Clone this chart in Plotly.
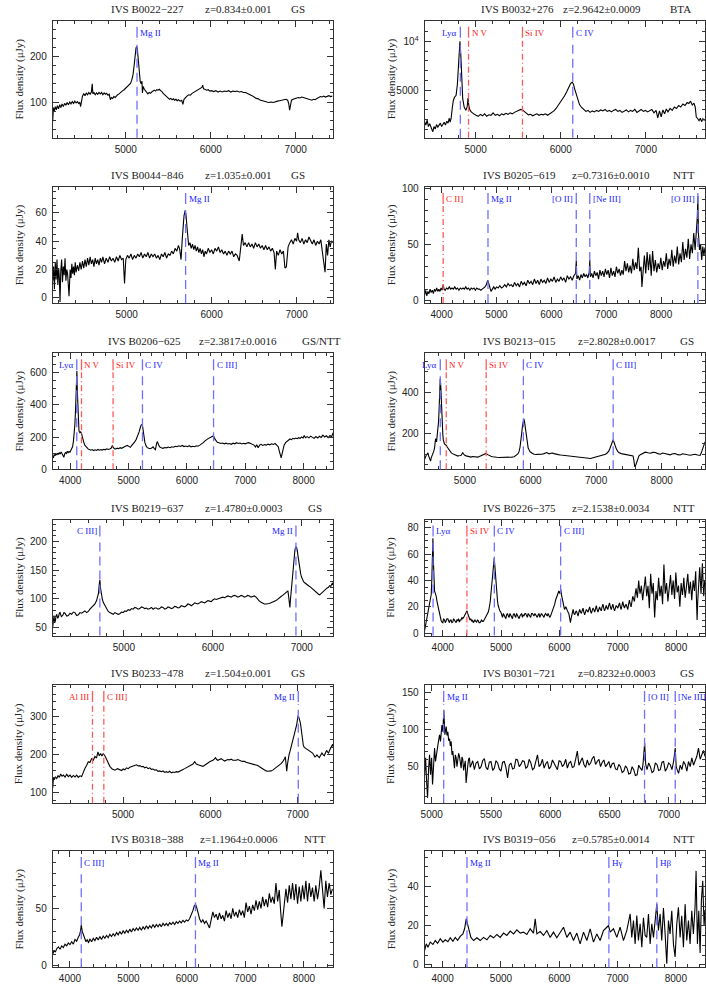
import plotly.graph_objects as go
from plotly.subplots import make_subplots

# Spectra: (wavelength [A], flux density [uJy])
spec_b0022 = [(4140,58),(4148,88),(4158,80),(4170,90),(4182,83),(4195,92),(4208,85),(4222,94),(4236,88),(4250,96),(4265,90),(4280,97),(4295,93),(4310,99),(4325,94),(4340,100),(4355,96),(4370,101),(4385,97),(4400,102),(4415,98),(4430,101),(4445,97),(4458,99),(4468,90),(4478,104),(4490,113),(4505,118),(4520,114),(4535,120),(4550,116),(4565,121),(4580,117),(4595,122),(4605,140),(4612,118),(4625,121),(4640,116),(4655,120),(4670,117),(4685,121),(4700,118),(4715,121),(4730,116),(4745,120),(4760,117),(4775,119),(4790,115),(4805,117),(4818,105),(4830,110),(4845,108),(4860,112),(4875,110),(4890,114),(4905,116),(4920,118),(4935,121),(4950,123),(4965,125),(4980,127),(4995,130),(5010,131),(5025,134),(5040,137),(5055,141),(5070,148),(5085,160),(5098,180),(5110,205),(5120,218),(5128,222),(5136,216),(5146,195),(5158,165),(5170,145),(5182,140),(5190,146),(5196,120),(5204,134),(5218,128),(5232,125),(5246,121),(5260,118),(5275,121),(5290,119),(5305,122),(5320,124),(5335,126),(5350,124),(5365,127),(5380,126),(5395,128),(5410,125),(5425,123),(5440,119),(5455,116),(5470,113),(5485,110),(5500,108),(5515,106),(5530,108),(5545,105),(5560,107),(5575,104),(5590,106),(5605,103),(5620,105),(5640,102),(5658,104),(5672,95),(5685,106),(5700,110),(5720,113),(5740,116),(5760,115),(5780,119),(5800,121),(5820,124),(5840,126),(5860,128),(5880,130),(5895,132),(5905,137),(5915,129),(5930,128),(5950,126),(5970,127),(5990,124),(6010,125),(6035,123),(6060,125),(6085,122),(6110,124),(6135,122),(6160,124),(6185,123),(6210,125),(6235,122),(6260,124),(6285,123),(6310,124),(6335,122),(6360,123),(6385,121),(6410,121),(6435,119),(6460,117),(6485,114),(6510,111),(6535,108),(6560,107),(6585,104),(6610,103),(6635,101),(6660,100),(6685,99),(6710,100),(6735,99),(6760,101),(6785,102),(6810,103),(6835,104),(6860,105),(6885,106),(6905,104),(6918,96),(6928,82),(6938,98),(6950,104),(6970,106),(6990,107),(7010,108),(7030,110),(7050,109),(7070,111),(7090,110),(7110,109),(7130,108),(7150,106),(7170,105),(7190,104),(7210,106),(7230,105),(7250,108),(7270,110),(7290,112),(7310,111),(7330,113),(7350,111),(7370,112),(7390,114),(7410,112),(7430,113)]

spec_b0032 = [(4400,1800),(4415,1450),(4430,1950),(4445,1300),(4460,1600),(4475,1150),(4490,900),(4497,780),(4510,1300),(4525,1050),(4540,1500),(4555,1250),(4570,1400),(4585,1650),(4600,1300),(4615,1550),(4630,1750),(4645,1450),(4660,1850),(4675,1650),(4690,2150),(4700,1750),(4712,2150),(4725,3200),(4738,3990),(4752,4300),(4770,4500),(4785,5600),(4795,7000),(4805,8600),(4815,10000),(4825,8700),(4835,5700),(4848,4150),(4865,3300),(4885,2970),(4900,3300),(4910,4200),(4920,3400),(4932,3000),(4948,2800),(4965,2650),(4985,2550),(5005,2450),(5030,2350),(5055,2550),(5080,2400),(5105,2600),(5130,2350),(5155,2500),(5180,2450),(5205,2700),(5230,2450),(5255,2550),(5280,2400),(5305,2600),(5330,2500),(5355,2650),(5380,2550),(5405,2700),(5430,2600),(5455,2750),(5480,2850),(5505,2950),(5530,3050),(5550,3000),(5570,2850),(5595,2650),(5620,2500),(5645,2550),(5670,2400),(5695,2500),(5720,2600),(5745,2450),(5770,2550),(5795,2500),(5820,2600),(5845,2450),(5870,2600),(5895,2700),(5920,2900),(5945,3150),(5970,3450),(5995,3800),(6020,4100),(6045,4450),(6070,4850),(6095,5300),(6115,5700),(6135,5850),(6150,5600),(6165,5100),(6180,4600),(6200,4000),(6220,3550),(6245,3250),(6270,3000),(6295,2850),(6320,2950),(6345,2750),(6370,2900),(6395,2800),(6420,2950),(6445,2850),(6470,3000),(6495,2900),(6520,3050),(6545,2850),(6570,2950),(6595,2800),(6620,2950),(6645,3050),(6670,2850),(6695,2950),(6720,2750),(6745,2900),(6770,3000),(6795,2800),(6820,2950),(6845,2850),(6870,3050),(6895,2750),(6920,2950),(6945,3050),(6970,2850),(6995,2950),(7020,2800),(7045,2950),(7070,3050),(7095,2700),(7120,2950),(7140,2200),(7160,2900),(7180,2300),(7200,3000),(7220,2600),(7240,3100),(7260,2800),(7285,3150),(7310,2950),(7335,3300),(7360,3150),(7385,3450),(7410,3300),(7435,3600),(7460,3450),(7485,3750),(7505,3650),(7525,3900),(7545,3500),(7565,3700),(7580,3300),(7592,2300),(7610,2100),(7625,1900),(7640,2150),(7655,1800),(7670,2100),(7685,1950),(7695,2050)]

spec_b0044 = [(4130,12),(4140,22),(4150,6),(4160,25),(4170,13),(4180,27),(4190,9),(4200,21),(4208,14),(4216,-3),(4225,19),(4235,27),(4245,11),(4255,22),(4265,16),(4275,28),(4285,12),(4295,20),(4305,17),(4322,1),(4335,20),(4345,14),(4355,24),(4365,17),(4375,22),(4385,16),(4395,25),(4405,18),(4420,23),(4435,19),(4450,25),(4465,20),(4480,26),(4495,21),(4510,27),(4525,22),(4540,28),(4555,23),(4570,29),(4585,24),(4600,27),(4615,22),(4630,28),(4645,24),(4660,27),(4675,23),(4690,28),(4705,25),(4720,29),(4740,24),(4760,28),(4780,25),(4800,29),(4820,26),(4840,28),(4860,25),(4880,29),(4900,26),(4920,30),(4940,27),(4960,28),(4975,10),(4990,27),(5010,30),(5030,28),(5050,31),(5070,27),(5090,30),(5110,28),(5130,31),(5150,29),(5170,32),(5190,28),(5210,31),(5230,29),(5250,32),(5270,28),(5290,31),(5310,29),(5330,31),(5350,28),(5370,30),(5390,27),(5410,31),(5430,29),(5450,32),(5470,28),(5490,31),(5510,30),(5530,33),(5550,31),(5570,35),(5590,33),(5610,37),(5625,34),(5640,27),(5655,42),(5665,50),(5675,58),(5690,62),(5700,58),(5710,50),(5720,42),(5730,37),(5745,39),(5760,35),(5775,38),(5790,34),(5805,37),(5820,33),(5835,36),(5850,32),(5865,35),(5880,31),(5895,34),(5910,29),(5925,33),(5940,31),(5960,35),(5980,32),(6000,34),(6020,31),(6040,35),(6060,33),(6080,36),(6100,32),(6120,34),(6140,31),(6160,33),(6180,30),(6200,33),(6220,31),(6240,33),(6260,29),(6280,31),(6300,30),(6325,26),(6345,40),(6360,45),(6375,37),(6395,39),(6415,36),(6435,39),(6455,36),(6475,38),(6495,35),(6515,39),(6535,36),(6555,38),(6575,35),(6595,37),(6615,34),(6635,37),(6655,34),(6675,36),(6695,33),(6715,35),(6735,32),(6750,20),(6765,33),(6785,30),(6805,34),(6825,31),(6845,33),(6863,21),(6880,22),(6900,36),(6920,39),(6940,41),(6960,38),(6980,42),(7000,40),(7012,46),(7025,41),(7045,39),(7065,42),(7085,38),(7105,41),(7125,39),(7145,43),(7165,40),(7185,38),(7205,41),(7225,37),(7245,40),(7265,38),(7285,41),(7300,33),(7335,18),(7350,38),(7365,30),(7380,41),(7395,36),(7410,40),(7430,39)]

spec_b0205 = [(3690,5),(3710,9),(3730,4),(3750,8),(3770,6),(3790,10),(3810,7),(3830,9),(3850,6),(3870,10),(3890,8),(3910,11),(3930,8),(3950,10),(3970,8),(3990,11),(4010,9),(4028,14),(4045,10),(4065,9),(4090,11),(4115,10),(4140,12),(4165,10),(4190,11),(4215,10),(4240,12),(4265,10),(4290,11),(4315,9),(4340,11),(4365,10),(4390,11),(4415,10),(4440,12),(4465,10),(4490,11),(4515,9),(4540,11),(4565,10),(4590,11),(4615,9),(4640,11),(4665,10),(4690,10),(4715,9),(4740,10),(4765,11),(4790,12),(4815,14),(4840,18),(4860,15),(4880,10),(4900,8),(4925,10),(4950,12),(4975,10),(5000,12),(5030,11),(5060,13),(5090,11),(5120,12),(5150,14),(5180,12),(5210,15),(5240,13),(5270,14),(5300,12),(5330,16),(5360,13),(5390,15),(5420,12),(5450,17),(5480,14),(5510,16),(5540,13),(5570,18),(5600,15),(5630,17),(5660,14),(5690,19),(5720,15),(5750,18),(5780,14),(5810,19),(5840,16),(5870,18),(5900,15),(5930,20),(5960,16),(5990,19),(6020,17),(6050,21),(6080,16),(6110,19),(6140,17),(6170,21),(6200,18),(6230,20),(6260,16),(6290,22),(6320,19),(6350,21),(6380,18),(6410,22),(6440,24),(6454,35),(6465,19),(6490,22),(6515,18),(6540,23),(6565,20),(6590,24),(6615,21),(6640,23),(6665,20),(6690,25),(6700,36),(6712,21),(6735,24),(6760,20),(6785,26),(6810,22),(6835,25),(6860,19),(6885,27),(6910,22),(6935,26),(6960,21),(6985,28),(7010,23),(7035,27),(7060,20),(7085,29),(7110,22),(7135,26),(7160,21),(7185,30),(7210,24),(7235,28),(7260,22),(7285,27),(7310,23),(7335,35),(7360,26),(7385,33),(7410,25),(7435,31),(7460,24),(7485,37),(7510,27),(7535,34),(7560,28),(7585,47),(7610,26),(7635,30),(7650,12),(7670,28),(7695,40),(7720,24),(7745,43),(7770,27),(7795,41),(7820,22),(7845,44),(7870,26),(7895,36),(7920,25),(7945,33),(7970,28),(7995,38),(8020,27),(8045,35),(8070,30),(8095,42),(8120,28),(8145,37),(8170,31),(8195,45),(8220,30),(8245,40),(8270,33),(8295,48),(8320,32),(8345,42),(8370,34),(8395,52),(8420,36),(8445,46),(8470,38),(8495,55),(8520,37),(8545,50),(8570,42),(8595,60),(8620,45),(8645,62),(8660,75),(8670,93),(8680,60),(8700,45),(8720,50),(8740,36),(8760,48),(8780,40),(8800,47)]

spec_b0206 = [(3700,82),(3712,70),(3725,92),(3740,84),(3755,98),(3770,88),(3785,100),(3800,92),(3815,104),(3830,95),(3845,108),(3860,98),(3875,90),(3890,74),(3905,96),(3920,104),(3935,98),(3950,112),(3965,104),(3980,110),(3995,106),(4010,118),(4025,125),(4040,140),(4055,175),(4068,215),(4080,280),(4092,380),(4100,500),(4108,600),(4114,610),(4120,500),(4128,380),(4138,290),(4150,238),(4165,228),(4180,232),(4195,220),(4210,190),(4230,170),(4250,150),(4270,140),(4290,130),(4310,125),(4330,122),(4350,118),(4375,122),(4400,116),(4425,121),(4450,117),(4475,123),(4500,118),(4525,122),(4550,119),(4575,124),(4600,121),(4625,127),(4650,123),(4675,126),(4700,130),(4720,145),(4738,138),(4755,128),(4780,126),(4805,131),(4830,128),(4855,134),(4880,130),(4905,137),(4930,140),(4955,145),(4980,148),(5005,142),(5030,136),(5055,148),(5080,158),(5105,170),(5130,185),(5155,205),(5180,232),(5200,258),(5215,275),(5235,279),(5250,240),(5265,200),(5280,165),(5300,145),(5320,134),(5345,130),(5370,128),(5395,132),(5420,140),(5440,128),(5460,122),(5480,160),(5495,172),(5515,150),(5535,138),(5560,134),(5590,130),(5620,135),(5650,133),(5680,138),(5710,134),(5740,140),(5770,137),(5800,143),(5830,140),(5860,146),(5890,142),(5920,148),(5950,141),(5980,144),(6010,140),(6040,146),(6070,139),(6100,143),(6130,140),(6160,146),(6190,143),(6220,150),(6250,156),(6280,165),(6310,176),(6340,186),(6370,192),(6400,198),(6430,204),(6455,208),(6475,190),(6495,176),(6520,168),(6550,165),(6580,160),(6610,163),(6640,158),(6670,162),(6700,157),(6730,160),(6760,155),(6790,162),(6820,158),(6850,165),(6880,160),(6910,163),(6940,157),(6970,161),(7000,158),(7030,163),(7060,165),(7090,160),(7120,156),(7150,150),(7175,138),(7195,152),(7220,134),(7245,150),(7270,155),(7300,148),(7330,153),(7360,150),(7390,156),(7420,152),(7450,158),(7480,154),(7510,160),(7540,152),(7565,140),(7585,110),(7600,85),(7615,70),(7630,95),(7645,125),(7665,150),(7690,165),(7715,175),(7740,182),(7765,188),(7790,184),(7815,192),(7840,188),(7865,194),(7890,190),(7915,196),(7940,192),(7965,200),(7990,194),(8010,210),(8030,196),(8060,203),(8090,195),(8120,206),(8150,198),(8180,192),(8210,203),(8240,194),(8270,205),(8300,198),(8330,212),(8360,200),(8390,208),(8420,196),(8450,210),(8480,202),(8505,228)]

spec_b0213 = [(4385,75),(4398,88),(4410,95),(4423,100),(4436,107),(4446,92),(4456,80),(4466,72),(4476,67),(4486,82),(4496,90),(4504,95),(4512,99),(4525,115),(4537,131),(4545,150),(4552,175),(4560,170),(4567,160),(4575,185),(4582,200),(4590,230),(4598,259),(4606,320),(4613,387),(4619,440),(4623,467),(4628,450),(4633,419),(4640,350),(4648,291),(4656,235),(4663,195),(4670,170),(4678,155),(4688,150),(4699,147),(4709,145),(4719,142),(4729,135),(4739,130),(4752,122),(4764,115),(4777,111),(4790,108),(4802,104),(4815,102),(4828,99),(4840,98),(4853,96),(4866,94),(4878,93),(4891,91),(4904,93),(4916,92),(4929,94),(4942,95),(4955,100),(4967,107),(4980,101),(4992,96),(5018,92),(5043,90),(5068,87),(5093,86),(5118,89),(5144,88),(5170,86),(5195,86),(5220,89),(5245,92),(5270,96),(5296,100),(5321,104),(5347,98),(5372,93),(5397,90),(5422,88),(5448,86),(5486,85),(5524,84),(5561,84),(5599,83),(5637,84),(5675,85),(5713,86),(5751,88),(5776,93),(5802,100),(5815,106),(5827,115),(5840,135),(5852,160),(5865,200),(5878,240),(5888,262),(5898,272),(5908,258),(5918,235),(5928,200),(5938,170),(5951,148),(5964,130),(5979,120),(5994,112),(6025,105),(6055,100),(6093,99),(6131,98),(6169,100),(6207,103),(6227,106),(6247,108),(6265,105),(6283,102),(6308,105),(6333,106),(6359,103),(6384,100),(6422,98),(6460,96),(6510,94),(6561,92),(6611,90),(6662,88),(6712,86),(6763,85),(6813,83),(6864,82),(6890,80),(6915,79),(6940,82),(6965,84),(7015,88),(7066,92),(7105,96),(7143,100),(7168,106),(7193,115),(7210,128),(7228,145),(7245,160),(7259,170),(7269,162),(7279,150),(7294,135),(7309,125),(7327,115),(7345,108),(7383,103),(7421,100),(7459,98),(7497,97),(7530,95),(7563,92),(7576,70),(7588,40),(7598,44),(7608,50),(7620,65),(7633,80),(7653,92),(7674,98),(7712,104),(7750,110),(7788,107),(7826,105),(7864,109),(7902,108),(7940,103),(7978,100),(8016,106),(8054,104),(8091,99),(8129,97),(8167,102),(8205,103),(8243,98),(8281,96),(8319,102),(8357,101),(8395,97),(8433,95),(8471,99),(8509,100),(8547,96),(8585,94),(8605,108),(8625,130),(8645,145),(8660,160)]

spec_b0219 = [(4200,51),(4207,65),(4215,71),(4222,58),(4230,62),(4237,70),(4245,73),(4256,66),(4263,68),(4275,75),(4282,76),(4297,69),(4312,71),(4327,76),(4338,75),(4357,70),(4376,71),(4394,75),(4413,73),(4432,77),(4450,76),(4469,71),(4488,72),(4506,76),(4525,75),(4544,77),(4562,79),(4581,76),(4600,78),(4618,82),(4637,85),(4656,88),(4674,91),(4693,97),(4704,102),(4715,110),(4723,125),(4730,133),(4738,118),(4745,108),(4757,100),(4768,94),(4786,88),(4805,83),(4824,78),(4842,76),(4861,74),(4880,73),(4898,76),(4917,75),(4935,73),(4954,74),(4973,77),(4992,76),(5010,79),(5029,78),(5048,81),(5067,80),(5085,83),(5104,82),(5122,85),(5141,84),(5160,82),(5179,83),(5197,86),(5216,85),(5235,83),(5253,84),(5272,82),(5291,83),(5310,85),(5328,82),(5347,84),(5365,84),(5384,82),(5403,83),(5421,86),(5440,85),(5459,82),(5477,83),(5496,86),(5515,85),(5533,83),(5552,84),(5570,87),(5589,86),(5608,84),(5627,85),(5645,88),(5664,87),(5683,86),(5701,88),(5720,91),(5739,90),(5757,88),(5776,90),(5795,93),(5814,92),(5832,91),(5851,93),(5870,95),(5888,94),(5907,93),(5926,95),(5944,97),(5963,96),(5982,95),(6000,98),(6019,100),(6038,99),(6056,100),(6075,101),(6094,103),(6112,103),(6131,102),(6150,104),(6168,105),(6187,104),(6206,103),(6224,105),(6243,106),(6262,105),(6280,103),(6299,104),(6318,106),(6336,105),(6355,103),(6374,104),(6392,106),(6411,105),(6430,103),(6448,104),(6467,105),(6486,103),(6495,101),(6504,99),(6523,96),(6542,94),(6560,92),(6579,91),(6598,91),(6617,91),(6635,92),(6654,93),(6672,94),(6691,95),(6710,97),(6728,99),(6747,102),(6766,104),(6785,106),(6803,108),(6822,110),(6835,112),(6844,114),(6852,104),(6859,95),(6866,85),(6872,98),(6878,110),(6884,120),(6889,130),(6895,140),(6900,150),(6906,162),(6911,175),(6917,182),(6923,186),(6929,189),(6934,191),(6942,189),(6949,185),(6957,175),(6964,165),(6972,157),(6979,150),(6988,143),(6997,138),(7008,133),(7020,130),(7033,128),(7046,126),(7064,124),(7083,122),(7102,120),(7121,117),(7140,115),(7158,112),(7173,110),(7188,108),(7201,107),(7214,109),(7227,111),(7240,113),(7255,115),(7270,117),(7285,119),(7300,120),(7313,123),(7326,122),(7336,126),(7345,128),(7352,124)]

spec_b0226 = [(3690,2),(3718,9.5),(3747,14.5),(3775,22),(3804,29.5),(3813,40),(3821,52),(3827,64),(3832,72),(3837,64),(3843,52),(3851,40),(3860,32),(3875,30),(3889,28),(3903,24),(3917,21),(3931,17),(3946,14.5),(3960,11),(3974,9.5),(3988,8.5),(4002,8),(4016,11),(4031,10),(4045,8),(4059,9),(4073,11),(4088,11),(4102,9),(4116,8),(4130,10),(4144,10),(4158,8),(4173,8.5),(4187,11),(4201,10),(4215,9),(4230,8),(4244,10),(4258,9.5),(4272,11),(4286,8.5),(4300,10),(4315,10),(4329,12),(4343,11),(4358,12),(4372,13),(4386,15),(4400,16),(4417,17),(4428,15),(4440,13),(4454,11),(4468,10),(4482,11),(4497,9),(4511,10),(4525,8),(4539,9),(4553,10),(4567,9),(4582,8.5),(4596,10),(4610,9.5),(4624,8),(4639,8),(4653,9),(4667,10),(4681,9),(4695,9),(4710,10),(4724,11),(4738,12),(4752,13),(4766,14),(4781,16),(4792,18),(4803,20),(4815,24),(4826,29.5),(4838,35),(4849,42),(4860,49),(4872,54),(4883,57),(4892,52),(4900,46),(4908,40),(4917,34),(4928,28),(4940,24),(4951,21),(4962,19),(4979,17),(4996,16),(5010,14),(5025,12),(5039,15),(5053,14),(5068,12),(5082,11),(5096,14),(5110,15),(5124,13),(5138,12),(5153,15),(5167,14),(5181,12),(5195,11),(5209,14),(5224,15),(5238,13),(5252,12),(5266,15),(5280,14),(5295,12),(5309,11),(5323,13),(5337,14),(5352,15),(5366,12),(5380,14),(5394,13),(5408,15),(5422,15),(5437,13),(5451,12),(5465,15),(5479,14),(5494,12),(5508,12),(5522,15),(5536,15),(5550,14),(5564,13),(5579,15),(5593,14),(5607,13),(5621,12),(5636,14),(5650,15),(5664,12),(5678,13),(5692,15),(5707,14),(5721,13),(5735,12),(5749,14),(5763,15),(5778,14),(5792,13),(5806,15),(5820,14),(5834,12),(5848,13),(5863,15),(5877,17),(5891,18),(5905,19),(5920,22),(5934,25),(5948,27),(5962,29),(5976,31),(5990,32),(6007,30),(6024,33),(6036,29),(6047,26),(6064,22),(6087,18),(6110,20),(6132,17),(6147,16),(6161,15),(6175,12),(6189,8),(6200,11),(6212,14),(6224,16),(6235,18),(6249,15),(6263,14),(6277,16),(6291,17),(6305,15),(6320,13),(6334,16),(6348,18),(6362,16),(6376,15),(6390,17),(6405,19),(6419,16),(6433,14),(6447,16),(6462,18),(6476,17),(6490,16),(6504,18),(6519,20),(6533,17),(6547,15),(6561,17),(6575,19),(6590,18),(6604,16),(6618,18),(6632,21),(6646,18),(6661,16),(6675,18),(6689,20),(6703,18),(6717,17),(6731,20),(6746,22),(6760,19),(6774,17),(6788,19),(6803,21),(6817,19),(6831,18),(6845,21),(6859,23),(6873,20),(6888,18),(6902,20),(6916,22),(6930,19),(6945,17),(6959,19),(6973,21),(6987,20),(7001,19),(7015,21),(7030,23),(7044,20),(7058,18),(7072,21),(7086,24),(7100,21),(7115,19),(7129,21),(7143,22),(7157,20),(7172,18),(7186,22),(7200,25),(7214,22),(7229,20),(7243,24),(7257,28),(7271,26),(7285,24),(7300,30),(7314,34),(7325,30),(7337,27),(7348,34),(7359,40),(7370,34),(7382,30),(7393,33),(7405,36),(7416,30),(7427,25),(7439,30),(7450,33),(7461,38),(7473,43),(7484,35),(7496,28),(7507,32),(7518,36),(7530,27),(7541,19),(7552,32),(7564,45),(7575,37),(7587,30),(7598,34),(7609,38),(7620,24),(7632,12),(7643,22),(7655,32),(7666,28),(7677,25),(7689,34),(7700,42),(7711,35),(7723,28),(7734,32),(7745,36),(7757,29),(7768,22),(7779,37),(7791,52),(7802,41),(7813,30),(7825,34),(7836,38),(7848,31),(7859,24),(7870,29),(7882,34),(7893,39),(7904,44),(7916,36),(7927,29),(7938,35),(7950,40),(7961,33),(7973,26),(7984,36),(7995,46),(8007,38),(8018,31),(8030,33),(8041,36),(8052,28),(8064,20),(8075,29),(8086,38),(8098,33),(8109,29),(8120,35),(8132,42),(8143,34),(8155,27),(8166,31),(8177,36),(8189,41),(8200,45),(8211,37),(8223,30),(8234,35),(8245,39),(8257,32),(8268,25),(8280,33),(8291,40),(8302,36),(8314,32),(8325,40),(8336,47),(8347,28),(8359,10),(8370,24),(8382,38),(8393,44),(8404,50),(8416,40),(8427,30),(8438,42),(8450,53),(8461,40),(8473,28),(8482,34),(8490,40)]

spec_b0233 = [(4195,113),(4203,139),(4214,135),(4225,142),(4241,138),(4256,146),(4271,141),(4286,150),(4302,144),(4317,147),(4336,142),(4355,149),(4374,143),(4393,147),(4412,141),(4431,146),(4450,142),(4469,147),(4488,141),(4507,145),(4526,143),(4545,155),(4564,165),(4583,172),(4602,182),(4621,180),(4640,190),(4659,186),(4678,196),(4697,192),(4712,208),(4728,198),(4743,204),(4758,197),(4773,203),(4792,198),(4811,188),(4830,178),(4849,170),(4876,163),(4907,160),(4937,164),(4964,161),(4983,159),(5002,163),(5021,161),(5040,166),(5059,164),(5078,168),(5097,169),(5116,172),(5135,171),(5154,174),(5173,171),(5192,172),(5211,169),(5230,170),(5249,166),(5268,168),(5287,164),(5306,166),(5325,162),(5344,163),(5363,160),(5382,161),(5401,157),(5420,158),(5439,156),(5458,158),(5477,154),(5496,156),(5515,154),(5534,157),(5553,153),(5572,155),(5591,154),(5610,156),(5629,155),(5648,158),(5667,160),(5687,162),(5706,164),(5725,166),(5744,168),(5763,170),(5782,174),(5801,176),(5820,182),(5839,176),(5858,174),(5877,172),(5896,170),(5915,170),(5934,173),(5953,175),(5972,179),(5991,182),(6010,183),(6029,186),(6044,189),(6059,193),(6072,188),(6086,186),(6105,188),(6124,190),(6143,187),(6162,184),(6181,186),(6200,188),(6219,187),(6238,189),(6257,186),(6276,185),(6295,186),(6314,188),(6333,185),(6352,184),(6371,183),(6390,183),(6409,181),(6428,180),(6447,179),(6466,178),(6485,177),(6504,176),(6524,174),(6543,172),(6562,169),(6581,166),(6600,163),(6619,160),(6638,158),(6657,157),(6676,157),(6695,158),(6714,160),(6733,163),(6752,166),(6771,170),(6790,173),(6809,177),(6824,181),(6839,185),(6848,190),(6858,195),(6866,175),(6874,157),(6882,175),(6889,190),(6900,200),(6912,210),(6924,220),(6935,230),(6947,240),(6958,250),(6966,258),(6973,265),(6981,273),(6988,280),(6996,292),(7003,303),(7011,300),(7018,296),(7026,288),(7033,280),(7041,265),(7049,250),(7056,236),(7064,225),(7075,220),(7087,218),(7100,217),(7113,215),(7127,212),(7140,210),(7155,207),(7170,205),(7184,200),(7197,195),(7208,197),(7220,200),(7233,196),(7247,193),(7262,199),(7277,205),(7290,201),(7304,198),(7317,205),(7330,212),(7341,208),(7353,205),(7366,213),(7380,220),(7390,224),(7399,228),(7405,222)]

spec_b0301 = [(4940,39),(4948,62),(4957,30),(4965,8),(4974,48),(4982,66),(4990,39),(4999,62),(5007,26),(5016,53),(5024,75),(5032,57),(5041,71),(5052,79),(5066,93),(5074,84),(5086,106),(5094,97),(5102,126),(5111,93),(5122,104),(5129,92),(5136,97),(5143,85),(5150,88),(5157,78),(5164,84),(5171,66),(5178,71),(5185,58),(5192,48),(5199,66),(5206,62),(5213,50),(5220,57),(5227,68),(5234,64),(5241,52),(5248,48),(5255,63),(5262,60),(5269,45),(5276,51),(5283,58),(5290,28),(5297,48),(5304,51),(5311,60),(5318,62),(5325,49),(5332,53),(5346,58),(5360,46),(5374,55),(5388,57),(5402,47),(5416,50),(5430,58),(5444,61),(5458,49),(5472,46),(5486,56),(5500,57),(5514,45),(5528,48),(5542,58),(5556,55),(5570,47),(5584,44),(5598,56),(5612,57),(5626,49),(5640,35),(5654,52),(5668,55),(5682,47),(5696,48),(5710,60),(5724,59),(5738,50),(5752,53),(5766,58),(5780,57),(5794,48),(5808,50),(5822,60),(5836,55),(5850,46),(5864,48),(5878,58),(5892,66),(5906,50),(5920,53),(5934,60),(5948,48),(5962,54),(5976,57),(5990,47),(6004,50),(6018,59),(6032,55),(6046,49),(6060,46),(6074,58),(6088,57),(6102,50),(6116,53),(6130,60),(6144,48),(6158,55),(6172,57),(6186,49),(6200,50),(6214,60),(6228,71),(6242,52),(6256,57),(6270,62),(6284,53),(6298,49),(6312,59),(6326,52),(6340,55),(6354,61),(6368,64),(6382,53),(6396,57),(6410,60),(6424,50),(6438,56),(6452,59),(6466,50),(6480,53),(6494,57),(6508,48),(6522,54),(6536,55),(6550,47),(6564,46),(6578,53),(6592,50),(6606,42),(6620,44),(6634,51),(6648,48),(6662,40),(6676,41),(6690,50),(6704,46),(6718,38),(6732,39),(6746,52),(6760,48),(6774,45),(6782,53),(6796,82),(6805,53),(6816,46),(6830,55),(6844,50),(6858,42),(6872,44),(6886,55),(6900,53),(6914,45),(6928,46),(6942,56),(6956,57),(6970,44),(6984,48),(6998,55),(7012,53),(7026,46),(7040,57),(7054,75),(7062,50),(7072,45),(7082,41),(7096,52),(7110,46),(7124,57),(7138,53),(7152,44),(7166,57),(7180,50),(7194,62),(7208,52),(7222,57),(7236,64),(7250,75),(7264,60),(7278,66),(7292,72),(7305,64)]

spec_b0318 = [(3705,10),(3728,13.7),(3750,12),(3773,15),(3802,16.6),(3830,14.5),(3858,17.5),(3887,16),(3915,19),(3944,17.5),(3972,20),(4000,18.5),(4029,21),(4057,19),(4086,23),(4114,21.5),(4142,25),(4165,27),(4182,31),(4193,35.5),(4210,30),(4228,27),(4250,24),(4273,21),(4296,23),(4318,20),(4341,23.5),(4370,21),(4398,24),(4426,22),(4455,25),(4483,22.5),(4512,25.5),(4540,23),(4568,26),(4597,24),(4625,26.5),(4654,24.5),(4682,27.5),(4710,25.5),(4739,28),(4767,26),(4796,29),(4824,27),(4852,30),(4881,27.5),(4909,30.5),(4938,28.5),(4966,31),(4994,29),(5023,32),(5051,29.5),(5080,32.5),(5108,30.5),(5136,33),(5165,31),(5193,33.5),(5222,31),(5250,34),(5278,32),(5307,35),(5335,32.5),(5364,35),(5392,33),(5420,36),(5449,33.5),(5477,36),(5506,34),(5534,36.5),(5562,34),(5591,37),(5619,35),(5648,37),(5676,35),(5704,37.5),(5733,36),(5761,38),(5790,36),(5818,38.5),(5846,37),(5875,39),(5903,37.5),(5932,39.5),(5960,38),(5988,40),(6017,39),(6045,41),(6074,44),(6102,48),(6125,52),(6148,53.5),(6171,50),(6193,45),(6216,41),(6244,38),(6272,40),(6301,37),(6329,39),(6358,36),(6386,33),(6414,40),(6443,47),(6471,42),(6500,45),(6528,40),(6556,46),(6585,41),(6613,44),(6641,39),(6670,48),(6698,42),(6727,46),(6755,41),(6783,50),(6812,43),(6840,47),(6868,42),(6897,49),(6925,44),(6954,48),(6982,42),(7011,55),(7039,47),(7068,52),(7096,45),(7124,53),(7153,48),(7181,57),(7210,49),(7238,56),(7266,50),(7295,60),(7323,52),(7352,58),(7380,51),(7409,63),(7437,55),(7465,60),(7494,54),(7522,72),(7551,56),(7579,66),(7602,48),(7624,34),(7647,45),(7670,58),(7693,67),(7721,55),(7750,70),(7778,58),(7806,72),(7835,57),(7863,71),(7892,54),(7920,69),(7948,56),(7977,70),(8005,58),(8034,74),(8062,56),(8091,72),(8119,60),(8147,68),(8176,56),(8204,70),(8233,58),(8261,68),(8290,83),(8318,62),(8346,50),(8375,74),(8403,60),(8432,72),(8460,62),(8488,67)]

spec_b0319 = [(3690,7.3),(3719,10.7),(3747,9),(3787,11.6),(3833,10.4),(3873,12.4),(3913,11),(3959,13.3),(4004,11.6),(4044,12.8),(4090,11.8),(4130,13.8),(4176,12),(4216,14),(4256,12.5),(4301,14.5),(4347,15.8),(4376,18.4),(4404,23.5),(4427,21),(4456,16.7),(4484,14),(4530,12.4),(4587,13.8),(4644,12.4),(4701,14),(4759,12.8),(4816,15),(4873,13.8),(4930,15.5),(4987,14),(5044,16.2),(5101,15),(5159,17.2),(5216,15.8),(5273,17.9),(5330,16.2),(5387,16.7),(5444,15.5),(5501,18.4),(5558,16.2),(5587,23.5),(5616,15.8),(5673,17),(5730,15),(5787,17.5),(5844,14),(5901,16.7),(5958,13.8),(6016,16.2),(6073,19.2),(6130,14),(6187,16.7),(6244,12.4),(6301,16.2),(6358,10.7),(6416,16.7),(6473,12.4),(6530,18.4),(6587,11.6),(6644,15.8),(6701,12.4),(6758,17.5),(6816,19.2),(6844,20),(6873,16.7),(6930,18.4),(6987,14),(7044,19.2),(7101,12.4),(7158,17.5),(7216,26),(7244,14),(7273,22.6),(7301,10.7),(7330,25.2),(7358,12.4),(7387,20.9),(7416,9),(7444,24),(7473,15),(7501,14),(7530,26),(7559,10.7),(7587,21),(7616,14),(7644,24),(7673,31),(7701,17.5),(7730,26),(7758,12.4),(7787,29),(7816,15.8),(7844,0.5),(7873,22.6),(7901,15.8),(7930,27.6),(7958,10.7),(7987,4),(8016,21),(8044,29.4),(8073,14),(8101,25),(8130,9),(8159,31),(8187,12.4),(8216,22.6),(8244,10.7),(8273,27.6),(8301,15.8),(8330,30),(8347,48),(8370,10.7),(8393,27.6),(8416,6),(8438,32.8),(8461,43),(8484,20),(8500,28)]

# Identified lines: (label, observed wavelength, kind) -- "det" blue dashed, "exp" red dash-dot
lines_b0022 = [("Mg II", 5132, "det")]
lines_b0032 = [("Lyα", 4820, "det"), ("N V", 4916, "exp"), ("Si IV", 5550, "exp"), ("C IV", 6141, "det")]
lines_b0044 = [("Mg II", 5694, "det")]
lines_b0205 = [("C II]", 4028, "exp"), ("Mg II", 4845, "det"), ("[O II]", 6454, "det"), ("[Ne III]", 6700, "det"), ("[O III]", 8670, "det")]
lines_b0206 = [("Lyα", 4112, "det"), ("N V", 4193, "exp"), ("Si IV", 4734, "exp"), ("C IV", 5238, "det"), ("C III]", 6456, "det")]
lines_b0213 = [("Lyα", 4624, "det"), ("N V", 4715, "exp"), ("Si IV", 5324, "exp"), ("C IV", 5891, "det"), ("C III]", 7260, "det")]
lines_b0219 = [("C III]", 4730, "det"), ("Mg II", 6934, "det")]
lines_b0226 = [("Lyα", 3835, "det"), ("Si IV", 4415, "exp"), ("C IV", 4885, "det"), ("C III]", 6021, "det")]
lines_b0233 = [("Al III", 4650, "exp"), ("C III]", 4780, "exp"), ("Mg II", 7006, "det")]
lines_b0301 = [("Mg II", 5101, "det"), ("[O II]", 6795, "det"), ("[Ne III]", 7054, "det")]
lines_b0318 = [("C III]", 4193, "det"), ("Mg II", 6146, "det")]
lines_b0319 = [("Mg II", 4417, "det"), ("Hγ", 6851, "det"), ("Hβ", 7673, "det")]

names = ["IVS B0022−227", "IVS B0032+276", "IVS B0044−846", "IVS B0205−619",
         "IVS B0206−625", "IVS B0213−015", "IVS B0219−637", "IVS B0226−375",
         "IVS B0233−478", "IVS B0301−721", "IVS B0318−388", "IVS B0319−056"]
redshifts = ["z=0.834±0.001", "z=2.9642±0.0009", "z=1.035±0.001", "z=0.7316±0.0010",
             "z=2.3817±0.0016", "z=2.8028±0.0017", "z=1.4780±0.0003", "z=2.1538±0.0034",
             "z=1.504±0.001", "z=0.8232±0.0003", "z=1.1964±0.0006", "z=0.5785±0.0014"]
telescopes = ["GS", "BTA", "GS", "NTT", "GS/NTT", "GS", "GS", "NTT", "GS", "GS", "NTT", "NTT"]

spectra = [spec_b0022, spec_b0032, spec_b0044, spec_b0205, spec_b0206, spec_b0213,
           spec_b0219, spec_b0226, spec_b0233, spec_b0301, spec_b0318, spec_b0319]
line_sets = [lines_b0022, lines_b0032, lines_b0044, lines_b0205, lines_b0206, lines_b0213,
             lines_b0219, lines_b0226, lines_b0233, lines_b0301, lines_b0318, lines_b0319]

# axis setup per panel: x range, y range, x dtick, x minor, y dtick, y minor
axes_cfg = [
    ([4140, 7440], [22, 278], 1000, 200, 100, 20),
    ([4400, 7695], [170, 12100], 1000, 200, None, 1000),
    ([4130, 7430], [-3.7, 78.3], 1000, 200, 20, 5),
    ([3690, 8800], [-2.3, 101], 1000, 200, 50, 10),
    ([3700, 8505], [0, 720], 1000, 200, 200, 50),
    ([4385, 8660], [27, 590], 1000, 200, 200, 50),
    ([4200, 7352], [36, 238], 1000, 200, 50, 10),
    ([3690, 8495], [-1.75, 86], 1000, 200, 20, 5),
    ([4195, 7405], [74, 384], 1000, 200, 100, 20),
    ([4940, 7305], [1.3, 160], 500, 100, 50, 10),
    ([3705, 8500], [-1, 99.5], 1000, 200, 50, 10),
    ([3690, 8500], [-1.2, 58], 1000, 200, 20, 5),
]
# title pieces offsets (px from panel left): name, z-part, telescope
title_pos = [(57, 151, 238), (55, 137, 245), (57, 151, 238), (57, 146, 248),
             (54, 145, 249), (57, 152, 255), (57, 151, 255), (57, 146, 248),
             (57, 151, 238), (57, 152, 255), (57, 146, 251), (57, 146, 248)]
left_labels = {1: ["Lyα"], 3: ["[O II]", "[O III]"], 4: ["Lyα"], 5: ["Lyα"],
               6: ["C III]", "Mg II"], 8: ["Al III", "Mg II"]}

W, H = 706, 987
col_x = [(49, 331), (423, 705)]
row_y = [(17, 135), (185, 302), (353, 470), (521, 638), (688, 807), (856, 973)]
PW = 282

fig = make_subplots(rows=6, cols=2)

serif = "Liberation Serif"
sans = "Liberation Sans"
blue_line, blue_txt = "#6f6fff", "#2020ff"
red_line, red_txt = "#ff5a5a", "#ff2020"

for i in range(12):
    r, c = i // 2, i % 2
    n = i + 1
    xs = "" if n == 1 else str(n)
    xr, yr, xd, xm, yd, ym = axes_cfg[i]
    x0, x1 = col_x[c]
    ytop, ybot = row_y[r]

    spec = spectra[i]
    fig.add_trace(go.Scatter(x=[p[0] for p in spec], y=[p[1] for p in spec], mode="lines",
                             line=dict(color="black", width=1.1), showlegend=False,
                             hoverinfo="skip"), row=r + 1, col=c + 1)

    common = dict(showline=True, mirror="allticks", linecolor="#333", linewidth=1,
                  ticks="inside", ticklen=6, tickcolor="#333", showgrid=False, zeroline=False,
                  tickfont=dict(family=sans, size=10, color="#222"))
    fig.layout[f"xaxis{xs}"].update(domain=[x0 / W, x1 / W], range=xr, dtick=xd, tick0=0,
                                    ticklabelstandoff=2,
                                    minor=dict(ticks="inside", ticklen=3, dtick=xm, tick0=0,
                                               tickcolor="#333"), **common)
    yax = dict(domain=[1 - ybot / H, 1 - ytop / H], range=yr, ticklabelstandoff=3,
               minor=dict(ticks="inside", ticklen=3, dtick=ym, tick0=0, tickcolor="#333"), **common)
    if yd is None:
        yax.update(tickmode="array", tickvals=[5000, 10000], ticktext=["5000", "10<sup>4</sup>"])
    else:
        yax.update(dtick=yd, tick0=0)
    fig.layout[f"yaxis{xs}"].update(**yax)

    # title
    npos, zpos, tpos = title_pos[i]
    for txt, off in [(names[i], npos), (redshifts[i], zpos), (telescopes[i], tpos)]:
        fig.add_annotation(text=txt, xref=f"x{xs} domain", yref=f"y{xs} domain",
                           x=off / PW, y=1, yshift=12, xanchor="left", yanchor="middle",
                           showarrow=False, font=dict(family=serif, size=11, color="#222"))
    # y title
    fig.add_annotation(text="Flux density (μJy)", xref=f"x{xs} domain", yref=f"y{xs} domain",
                       x=0, y=0.5, xshift=-42, textangle=-90, showarrow=False,
                       font=dict(family=serif, size=11, color="#222"))

    # line markers
    for label, wl, kind in line_sets[i]:
        lc = blue_line if kind == "det" else red_line
        tc = blue_txt if kind == "det" else red_txt
        dash = "9px,5px" if kind == "det" else "6px,3px,1px,3px"
        fig.add_shape(type="line", xref=f"x{xs}", yref=f"y{xs} domain", x0=wl, x1=wl,
                      y0=0, y1=0.84, line=dict(color=lc, width=1.3, dash=dash))
        fig.add_shape(type="line", xref=f"x{xs}", yref=f"y{xs} domain", x0=wl, x1=wl,
                      y0=0.855, y1=0.95, line=dict(color=lc, width=1.3))
        left = label in left_labels.get(i, [])
        fig.add_annotation(text=label, xref=f"x{xs}", yref=f"y{xs} domain", x=wl, y=0.9,
                           xanchor="right" if left else "left", xshift=-1 if left else 1,
                           yanchor="middle", showarrow=False,
                           font=dict(family=serif, size=9, color=tc))

fig.update_layout(width=W, height=H, margin=dict(l=0, r=0, t=0, b=0),
                  plot_bgcolor="white", paper_bgcolor="white", showlegend=False)

fig.write_html("out.html", config={"displayModeBar": False},
               post_script="document.body.style.margin='0px';document.body.style.overflow='hidden';")
